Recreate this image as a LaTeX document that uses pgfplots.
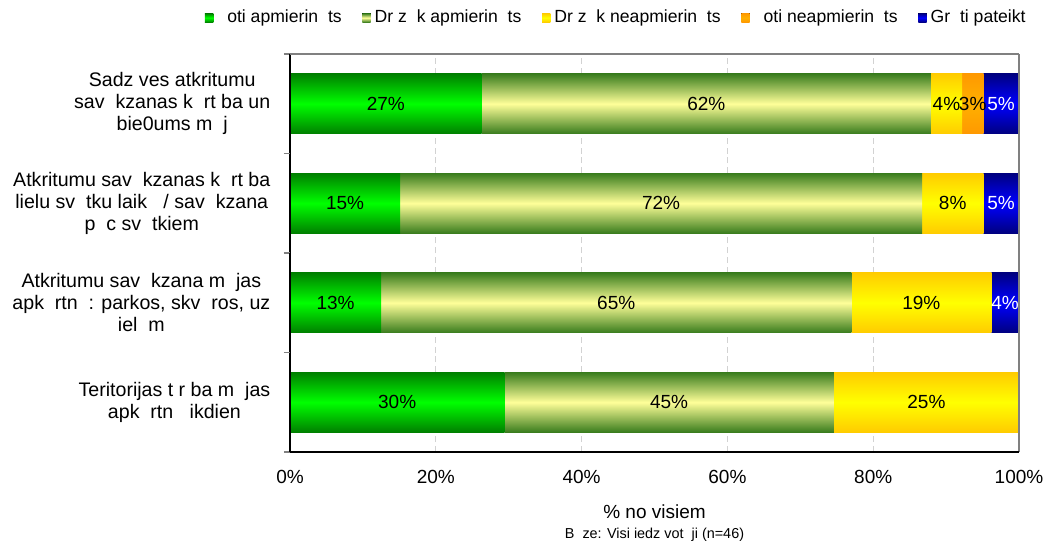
\documentclass[border=0pt]{standalone}
\usepackage{fontspec}
\setmainfont{Liberation Sans}
\usepackage{pgfplots}
\pgfplotsset{compat=1.18}

\definecolor{gAd}{HTML}{008000}
\definecolor{gAl}{HTML}{00FF00}
\definecolor{gBd}{HTML}{3A7D1E}
\definecolor{gBl}{HTML}{FFFF99}
\definecolor{gCd}{HTML}{FFCC00}
\definecolor{gCl}{HTML}{FFFF00}
\definecolor{gDd}{HTML}{FF9900}
\definecolor{gDl}{HTML}{FFB000}
\definecolor{gEd}{HTML}{000080}
\definecolor{gEl}{HTML}{0000FF}

% one axis per row, so every bar gets its own shading
\pgfplotsset{
  sA/.style={draw=none, top color=gAd, bottom color=gAd, middle color=gAl},
  sB/.style={draw=none, top color=gBd, bottom color=gBd, middle color=gBl},
  sC/.style={draw=none, top color=gCd, bottom color=gCd, middle color=gCl},
  sD/.style={draw=none, top color=gDd, bottom color=gDd, middle color=gDl},
  sE/.style={draw=none, top color=gEd, bottom color=gEd, middle color=gEl,
      nodes near coords style={text=white}},
  rowax/.style={
    scale only axis,
    width=364.5pt, height=49.75pt,
    xbar stacked,
    bar width=0.6,
    xmin=0, xmax=100,
    ymin=-0.5, ymax=0.5,
    xtick={0,20,40,60,80,100},
    xticklabels={},
    major x tick style={draw=none},
    ytick={0},
    minor ytick={-0.5,0.5},
    major y tick style={draw=none},
    minor tick length=3pt,
    major tick length=2.5pt,
    tick style={gray, line width=0.6pt},
    tick align=outside,
    xtick pos=bottom, ytick pos=left,
    yticklabel style={align=center, xshift=-4pt,
        font=\fontsize{9.8}{11}\selectfont},
    xmajorgrids,
    grid style={densely dashed, gray!35, line width=0.4pt},
    axis line style={draw=none},
    after end axis/.code={
      \draw[gray, line width=1pt] (rel axis cs:1,0) -- (rel axis cs:1,1);
      \draw[black, line width=1pt] (rel axis cs:0,0) -- (rel axis cs:0,1);
    },
    point meta=explicit symbolic,
    nodes near coords,
    nodes near coords style={anchor=center, inner sep=0pt},
  },
}

\begin{document}
\fontsize{9.5}{11}\selectfont
\begin{tikzpicture}
\begin{axis}[rowax, name=r3,
    yticklabels={{Sadz ves atkritumu\\sav\ \ kzanas k\ \ rt ba un\\bie0ums m\ \ j}},
    after end axis/.append code={
      \draw[gray, line width=1pt] (rel axis cs:0,1) -- (rel axis cs:1,1);
    },
    legend columns=5,
    legend style={draw=none, fill=none, at={(1,1)}, anchor=south east,
        xshift=5.5pt, yshift=12pt, inner sep=0pt,
        font=\fontsize{8.8}{10}\selectfont,
        /tikz/every even column/.append style={column sep=8.3pt}},
    legend image code/.code={\fill[#1] (0pt,-2.2pt) rectangle (4.2pt,2.2pt);},
]
\addplot[sA] coordinates {(26.3,0) [27\%]};
\addplot[sB] coordinates {(61.6,0) [62\%]};
\addplot[sC] coordinates {(4.3,0) [4\%]};
\addplot[sD] coordinates {(2.9,0) [3\%]};
\addplot[sE] coordinates {(4.9,0) [5\%]};
\legend{{\hspace{5pt}oti apmierin\ \ ts},{Dr z\ \ k apmierin\ \ ts},{Dr z\ \ k neapmierin\ \ ts},{\hspace{5pt}oti neapmierin\ \ ts},{Gr\ \ ti pateikt}}
\end{axis}

\begin{axis}[rowax, name=r2, at={(r3.south west)}, anchor=north west,
    yticklabels={{Atkritumu sav\ \ kzanas k\ \ rt ba\\lielu sv\ \ tku laik\ \ \ / sav\ \ kzana\\p\ \ c sv\ \ tkiem}},
]
\addplot[sA] coordinates {(15.1,0) [15\%]};
\addplot[sB] coordinates {(71.6,0) [72\%]};
\addplot[sC] coordinates {(8.4,0) [8\%]};
\addplot[sE] coordinates {(4.9,0) [5\%]};
\end{axis}

\begin{axis}[rowax, name=r1, at={(r2.south west)}, anchor=north west,
    yticklabels={{Atkritumu sav\ \ kzana m\ \ jas\\apk\ \ rtn\ \ : parkos{,} skv\ \ ros{,} uz\\iel\ \ m}},
]
\addplot[sA] coordinates {(12.5,0) [13\%]};
\addplot[sB] coordinates {(64.5,0) [65\%]};
\addplot[sC] coordinates {(19.2,0) [19\%]};
\addplot[sE] coordinates {(3.8,0) [4\%]};
\end{axis}

\begin{axis}[rowax, name=r0, at={(r1.south west)}, anchor=north west,
    yticklabels={{Teritorijas t r ba m\ \ jas\\apk\ \ rtn\ \ \ ikdien}},
    xticklabels={0\%,20\%,40\%,60\%,80\%,100\%},
    major x tick style={gray, line width=0.6pt},
    xticklabel style={yshift=-3pt},
    after end axis/.append code={
      \draw[black, line width=1pt] (rel axis cs:0,0) -- (rel axis cs:1,0);
    },
    xlabel={\% no visiem\\[-1pt]{\fontsize{7.2}{8}\selectfont B\ \ ze: Visi iedz vot\ \ ji (n=46)}},
    xlabel style={align=center, yshift=-4pt},
]
\addplot[sA] coordinates {(29.4,0) [30\%]};
\addplot[sB] coordinates {(45.2,0) [45\%]};
\addplot[sC] coordinates {(25.4,0) [25\%]};
\end{axis}

\pgfresetboundingbox
\path[use as bounding box] ([shift={(-145pt,-47.5pt)}]r0.south west) rectangle ([shift={(14pt,27pt)}]r3.north east);
\end{tikzpicture}
\end{document}
